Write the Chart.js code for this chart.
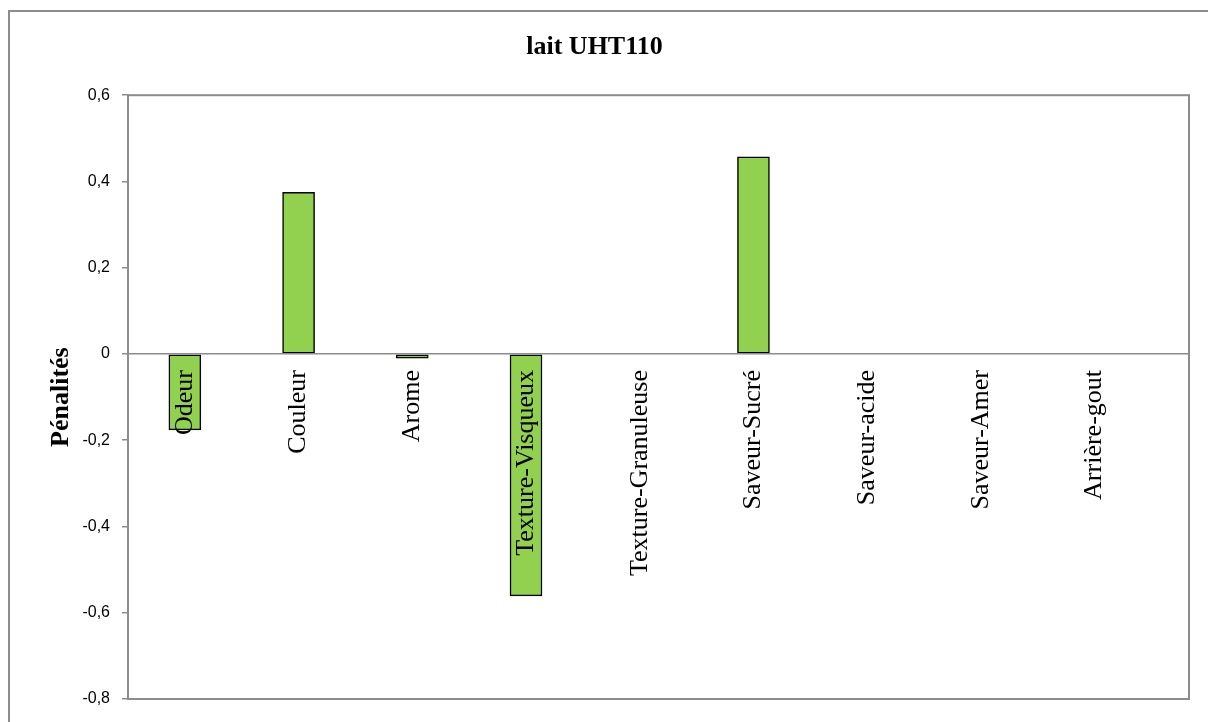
<!DOCTYPE html>
<html>
<head>
<meta charset="utf-8">
<title>lait UHT110</title>
<script src="https://cdn.jsdelivr.net/npm/chart.js@4/dist/chart.umd.min.js"></script>
<style>
  html, body { margin: 0; padding: 0; background: #fff; }
  canvas { display: block; }
</style>
</head>
<body>
<canvas id="chart" width="1208" height="722"></canvas>
<script>
const categories = ['Odeur', 'Couleur', 'Arome', 'Texture-Visqueux', 'Texture-Granuleuse',
  'Saveur-Sucré', 'Saveur-acide', 'Saveur-Amer', 'Arrière-gout'];
const penalties = [-0.176, 0.375, -0.01, -0.561, 0, 0.457, 0, 0, 0];
const yTicks = [-0.8, -0.6, -0.4, -0.2, 0, 0.2, 0.4, 0.6];

const gray = '#8c8c8c';
const chartCanvas = document.getElementById('chart');

// white background, outer frame and the plot-area frame
const framePlugin = {
  id: 'frame',
  beforeDraw(chart) {
    const ctx = chart.ctx;
    const a = chart.chartArea;
    ctx.save();
    ctx.fillStyle = '#fff';
    ctx.fillRect(0, 0, chart.width, chart.height);
    ctx.strokeStyle = gray;
    ctx.lineWidth = 2;
    ctx.beginPath();
    ctx.moveTo(9, chart.height + 5);
    ctx.lineTo(9, 11);
    ctx.lineTo(chart.width + 5, 11);
    ctx.stroke();
    ctx.strokeRect(a.left, a.top, a.right - a.left, a.bottom - a.top);
    ctx.restore();
  }
};

function formatTick(v) {
  if (Math.abs(v) < 1e-9) return '0';
  return v.toFixed(1).replace('.', ',');
}

const chart = new Chart(chartCanvas, {
  type: 'bar',
  data: {
    datasets: [{
      data: penalties.map((v, i) => ({ x: i, y: v })),
      backgroundColor: '#92d050',
      borderColor: '#000',
      borderWidth: 1.5,
      borderSkipped: false,
      barThickness: 32
    }]
  },
  options: {
    responsive: false,
    animation: false,
    layout: { padding: { left: 0, right: 19, top: 0, bottom: 23 } },
    plugins: {
      legend: { display: false },
      tooltip: { enabled: false },
      title: {
        display: true,
        text: 'lait UHT110',
        color: '#000',
        font: { family: 'Liberation Serif', size: 26, weight: 'bold' },
        padding: { top: 32, bottom: 32 }
      }
    },
    scales: {
      x: {
        type: 'linear',
        position: { y: 0 },
        offset: false,
        min: -0.5,
        max: 8.83,
        afterBuildTicks: scale => {
          scale.ticks = categories.map((c, i) => ({ value: i }));
        },
        grid: { display: false, drawTicks: false, offset: false },
        border: { display: true, color: gray, width: 1.5, z: 1 },
        ticks: {
          z: 1,
          autoSkip: false,
          minRotation: 90,
          maxRotation: 90,
          padding: 16,
          color: '#000',
          font: { family: 'Liberation Serif', size: 26 },
          callback: v => categories[v]
        }
      },
      y: {
        min: -0.8,
        max: 0.6,
        afterBuildTicks: scale => {
          scale.ticks = yTicks.map(v => ({ value: v }));
        },
        afterFit: scale => { scale.width = 128; },
        grid: { drawOnChartArea: false, drawTicks: true, tickLength: 6, color: gray, lineWidth: 1.5 },
        border: { display: true, color: gray, width: 2 },
        ticks: {
          padding: 12,
          color: '#000',
          font: { family: 'Liberation Sans', size: 16 },
          callback: formatTick
        },
        title: {
          display: true,
          text: 'Pénalités',
          color: '#000',
          font: { family: 'Liberation Serif', size: 26, weight: 'bold' },
          padding: { top: 46, bottom: 0 }
        }
      }
    }
  },
  plugins: [framePlugin]
});
</script>
</body>
</html>
